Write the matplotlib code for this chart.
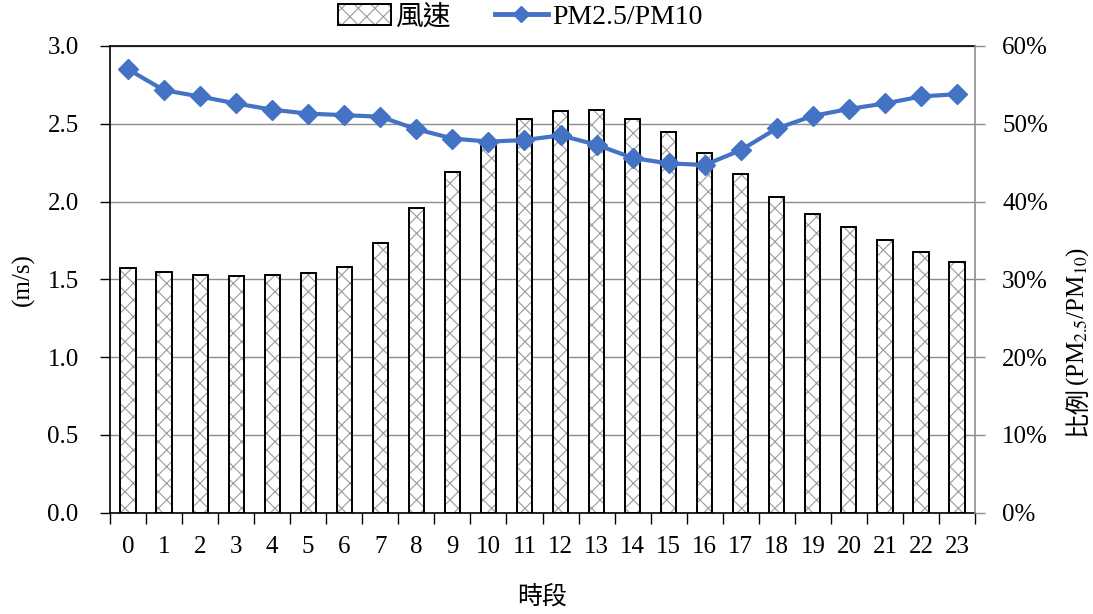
import matplotlib
matplotlib.use("Agg")
import matplotlib.pyplot as plt
from matplotlib.patches import Patch
from matplotlib.lines import Line2D
from matplotlib.legend_handler import HandlerTuple
from matplotlib.ticker import MultipleLocator, FuncFormatter, FixedLocator

plt.rcParams['font.family'] = ['Liberation Serif', 'Noto Sans CJK TC']
plt.rcParams['mathtext.fontset'] = 'stix'
plt.rcParams['hatch.linewidth'] = 0.8

hours = list(range(24))
hour_labels = [str(h) for h in hours]
wind_speed = [1.57, 1.55, 1.53, 1.52, 1.53, 1.54, 1.58, 1.735, 1.96, 2.19, 2.39, 2.53,
              2.58, 2.59, 2.53, 2.45, 2.315, 2.18, 2.03, 1.92, 1.835, 1.755, 1.675, 1.61]
pm_ratio = [57.0, 54.3, 53.5, 52.6, 51.8, 51.3, 51.1, 50.9, 49.3, 48.1, 47.7, 47.9,
            48.5, 47.3, 45.6, 44.9, 44.7, 46.6, 49.4, 51.0, 51.9, 52.6, 53.5, 53.8]

line_color = '#4472C4'
grid_color = '#8c8c8c'
fs = 18

fig = plt.figure(figsize=(10.93, 6.14), dpi=100)
ax = fig.add_axes([0.1006, 0.165, 0.7915, 0.7602])

bw = 0.42
ax.bar(hours, wind_speed, width=bw, color='white', edgecolor='#9a9a9a', hatch='xx',
       linewidth=0, zorder=2)
ax.bar(hours, wind_speed, width=bw, fill=False, edgecolor='black', linewidth=1.4, zorder=3)

ax.set_xlim(-0.5, 23.5)
ax.set_ylim(0, 3.0)
ax.yaxis.set_major_locator(MultipleLocator(0.5))
ax.yaxis.set_major_formatter(FuncFormatter(lambda v, p: f"{v:.1f}"))
ax.grid(axis='y', color=grid_color, linewidth=1.0, zorder=0)
ax.set_axisbelow(True)

ax.set_xticks(hours)
ax.set_xticklabels(hour_labels)
ax.xaxis.set_minor_locator(FixedLocator([h - 0.5 for h in hours] + [23.5]))
ax.tick_params(axis='x', which='major', length=0, pad=17, labelsize=fs)
ax.tick_params(axis='x', which='minor', length=8, width=1, color='black', direction='out')
ax.tick_params(axis='y', length=7.5, width=1, direction='out', labelsize=fs, pad=15)

for s in ['left', 'bottom', 'top']:
    ax.spines[s].set_color('black')
    ax.spines[s].set_linewidth(1.2)
ax.spines['right'].set_visible(False)

ax.set_ylabel('(m/s)', fontsize=fs, labelpad=9)
ax.set_xlabel('時段', fontsize=fs, labelpad=19)

ax2 = ax.twinx()
ax2.plot(hours, pm_ratio, color=line_color, linewidth=3, marker='D', markersize=10,
         zorder=5)
ax2.set_ylim(0, 60)
ax2.yaxis.set_major_locator(MultipleLocator(10))
ax2.yaxis.set_major_formatter(FuncFormatter(lambda v, p: f"{v:.0f}%"))
ax2.tick_params(axis='y', length=7.5, width=1, color=grid_color, direction='out',
                labelsize=fs, pad=12)
for s in ['left', 'bottom', 'top']:
    ax2.spines[s].set_visible(False)
ax2.spines['right'].set_color(grid_color)
ax2.spines['right'].set_linewidth(1.2)

# right axis label: CJK part and math part drawn as two texts
ylab_x = 0.986
ylab_split = 0.372
fig.text(ylab_x, ylab_split, '比例', rotation=90, fontsize=fs,
         ha='center', va='top', family=['Noto Sans CJK TC'])
fig.text(ylab_x, ylab_split, '(PM$_{2.5}$/PM$_{10}$)', rotation=90, fontsize=fs,
         ha='center', va='bottom')

h_hatch = Patch(facecolor='white', edgecolor='#9a9a9a', hatch='xx', linewidth=0)
h_edge = Patch(fill=False, edgecolor='black', linewidth=1.4)
h_line = Line2D([], [], color=line_color, linewidth=3.5, marker='D', markersize=8)
fig.legend([(h_hatch, h_edge), h_line], ['風速', 'PM2.5/PM10'],
           handler_map={tuple: HandlerTuple(ndivide=1, pad=0)},
           loc='center', bbox_to_anchor=(0.476, 0.972), ncol=2, frameon=False,
           fontsize=20, handlelength=1.9, handleheight=0.8, handletextpad=0.15,
           columnspacing=1.6)

fig.savefig('out.png', dpi=100)
